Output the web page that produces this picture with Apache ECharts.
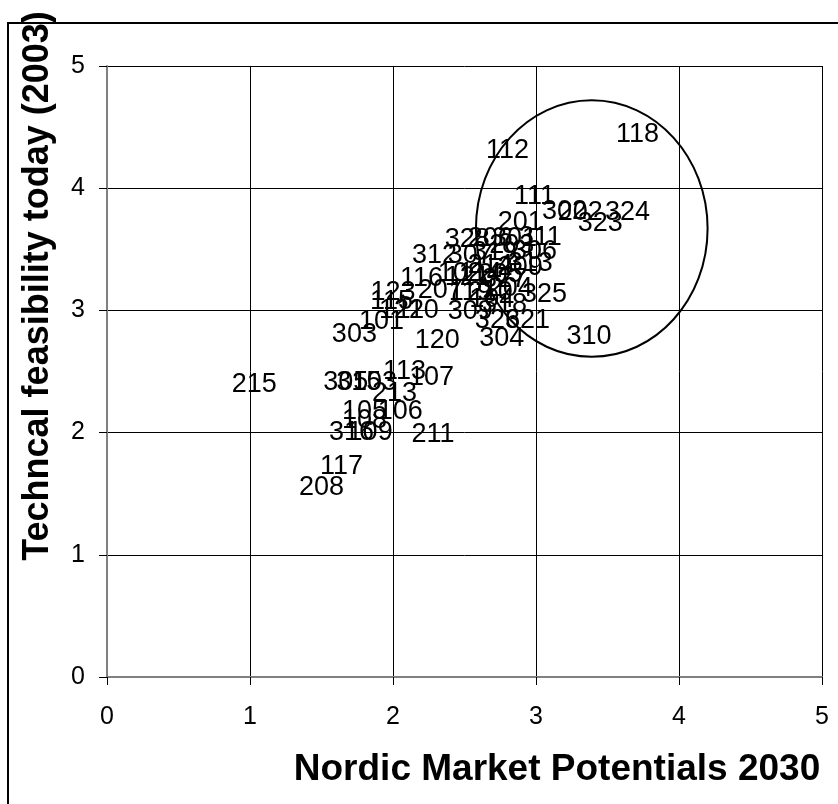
<!DOCTYPE html>
<html>
<head>
<meta charset="utf-8">
<script src="https://cdn.jsdelivr.net/npm/echarts@6/dist/echarts.min.js"></script>
<style>
html,body{margin:0;padding:0;background:#fff;}
#c{width:838px;height:804px;}
</style>
</head>
<body>
<div id="c"></div>
<script>
// Project IDs and their scores (x: Nordic Market Potentials 2030, y: Technical feasibility today)
var ids = ['118','112','111','302','202','324','323','201','328','206','301','311','312','307','319','203','306',
  '116','102','121','114','214','205','327','209','313','123','207','119','210','204','325','115','122','110','101',
  '309','104','318','326','321','303','120','304','310','215','305','315','103','113','107','213','105','108','106',
  '316','109','211','117','208'];
var xs = [3.71,2.80,2.99,3.20,3.31,3.64,3.45,2.89,2.52,2.68,2.85,3.03,2.29,2.54,2.71,2.83,2.99,
  2.20,2.47,2.52,2.61,2.68,2.75,2.78,2.89,2.96,2.00,2.33,2.54,2.68,2.82,3.06,1.99,2.06,2.17,1.92,
  2.54,2.69,2.78,2.73,2.94,1.73,2.31,2.76,3.37,1.03,1.67,1.76,1.87,2.08,2.27,2.01,1.80,1.80,2.05,
  1.71,1.84,2.28,1.64,1.50];
var ys = [4.44,4.31,3.93,3.81,3.80,3.80,3.71,3.72,3.58,3.59,3.59,3.60,3.45,3.45,3.47,3.53,3.48,
  3.26,3.30,3.27,3.30,3.37,3.29,3.25,3.35,3.38,3.15,3.16,3.15,3.15,3.18,3.13,3.07,3.00,3.00,2.91,
  2.99,3.09,3.05,2.92,2.92,2.80,2.75,2.77,2.79,2.39,2.41,2.41,2.41,2.50,2.45,2.32,2.17,2.10,2.17,
  2.00,2.00,1.98,1.72,1.55];
var xTicks = ['0','1','2','3','4','5'];
var yTicks = ['0','1','2','3','4','5'];
var xTitle = 'Nordic Market Potentials 2030';
var yTitle = 'Techncal feasibility today (2003)';
// circled group (data coordinates): centre and semi-axes
var ringCentre = [3.39, 3.67];
var ringRadii = [0.81, 1.05];

var font = '"Liberation Sans", Arial, sans-serif';
var pts = ids.map(function(id, i){ return {name: id, value: [xs[i], ys[i]]}; });

var chart = echarts.init(document.getElementById('c'), null, {renderer:'canvas'});
var axisCommon = {
  type: 'value', min: 0, max: 5, interval: 1,
  axisLine: {show: true, onZero: false, lineStyle: {color: '#808080', width: 2}},
  axisTick: {show: true, length: 8, lineStyle: {color: '#000', width: 1}},
  splitLine: {show: true, lineStyle: {color: '#000', width: 1}}
};
chart.setOption({
  animation: false,
  backgroundColor: '#fff',
  grid: {left: 107, right: 16, top: 66, bottom: 127, containLabel: false},
  xAxis: Object.assign({}, axisCommon, {
    axisLabel: {fontSize: 25, color: '#000', fontFamily: font, margin: 28,
      formatter: function(v){ return xTicks[Math.round(v)]; }}
  }),
  yAxis: Object.assign({}, axisCommon, {
    axisLabel: {fontSize: 25, color: '#000', fontFamily: font, margin: 22,
      formatter: function(v){ return yTicks[Math.round(v)]; }}
  }),
  series: [{
    type: 'scatter',
    data: pts,
    symbolSize: 0.01,
    itemStyle: {color: '#000', opacity: 1},
    label: {show: true, position: 'inside', formatter: '{b}', color: '#000', opacity: 1,
      textBorderWidth: 0, fontSize: 27, fontFamily: font},
    emphasis: {disabled: true},
    labelLayout: {hideOverlap: false}
  }]
});

var c = chart.convertToPixel({gridIndex: 0}, ringCentre);
var e1 = chart.convertToPixel({gridIndex: 0}, [ringCentre[0] + ringRadii[0], ringCentre[1] + ringRadii[1]]);
chart.setOption({
  graphic: [
    {type: 'ellipse', shape: {cx: c[0], cy: c[1], rx: Math.abs(e1[0] - c[0]), ry: Math.abs(c[1] - e1[1])},
      style: {fill: 'none', stroke: '#000', lineWidth: 2}, z: 10},
    {type: 'rect', shape: {x: 8, y: 23, width: 840, height: 800},
      style: {fill: 'none', stroke: '#000', lineWidth: 2}, z: 10},
    {type: 'text', x: 557, y: 770, style: {text: xTitle, font: 'bold 37px ' + font, fill: '#000',
      textAlign: 'center', textVerticalAlign: 'middle'}, z: 10},
    {type: 'text', x: 38, y: 286, rotation: Math.PI / 2, style: {text: yTitle, font: 'bold 36px ' + font,
      fill: '#000', textAlign: 'center', textVerticalAlign: 'middle'}, z: 10}
  ]
});
</script>
</body>
</html>
